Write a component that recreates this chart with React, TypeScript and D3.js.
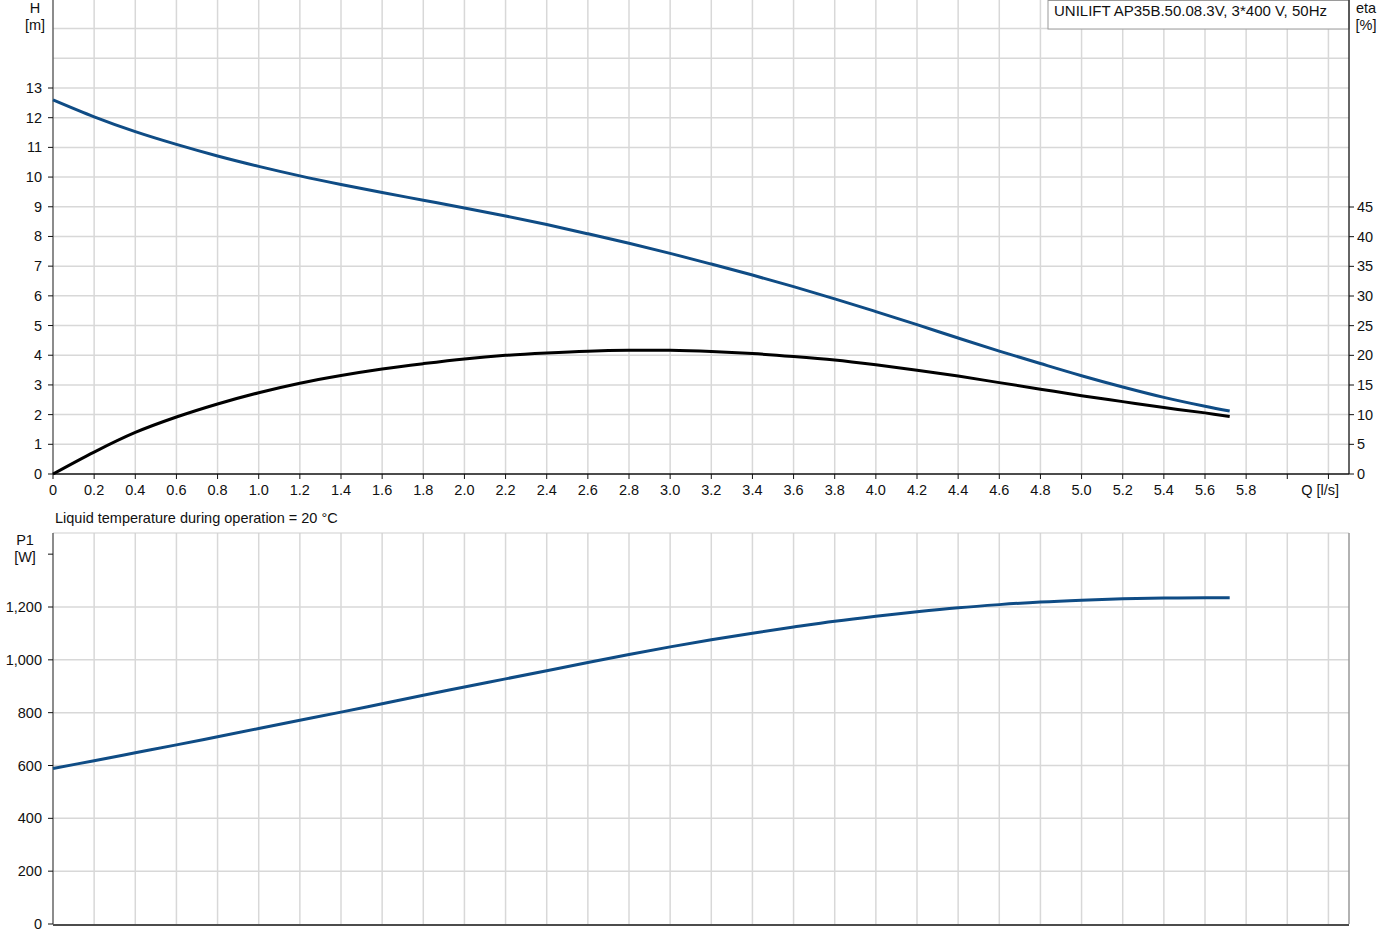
import React from "react";
import * as d3 from "d3";

// flow Q [l/s]
const flow = [0, 0.2, 0.4, 0.6, 0.8, 1.0, 1.2, 1.4, 1.6, 1.8, 2.0, 2.2, 2.4, 2.6, 2.8, 3.0, 3.2, 3.4, 3.6, 3.8, 4.0, 4.2, 4.4, 4.6, 4.8, 5.0, 5.2, 5.4, 5.6, 5.72];
// head H [m]
const head = [12.6, 12.03, 11.53, 11.1, 10.71, 10.36, 10.04, 9.75, 9.48, 9.22, 8.96, 8.69, 8.4, 8.09, 7.77, 7.43, 7.07, 6.7, 6.31, 5.9, 5.47, 5.03, 4.58, 4.14, 3.72, 3.31, 2.93, 2.58, 2.28, 2.12];
// efficiency eta [%]
const eta = [0, 3.7, 7.0, 9.6, 11.8, 13.7, 15.3, 16.6, 17.7, 18.6, 19.4, 20.0, 20.4, 20.7, 20.85, 20.85, 20.65, 20.3, 19.8, 19.2, 18.4, 17.5, 16.5, 15.4, 14.3, 13.2, 12.2, 11.2, 10.3, 9.7];
// power P1 [W]
const power = [589, 618, 648, 678, 709, 740, 771, 802, 834, 866, 897, 928, 959, 990, 1020, 1049, 1076, 1101, 1124, 1146, 1165, 1182, 1197, 1209, 1219, 1226, 1231, 1234, 1235, 1235];

const xTickLabels = ["0", "0.2", "0.4", "0.6", "0.8", "1.0", "1.2", "1.4", "1.6", "1.8", "2.0", "2.2", "2.4", "2.6", "2.8", "3.0", "3.2", "3.4", "3.6", "3.8", "4.0", "4.2", "4.4", "4.6", "4.8", "5.0", "5.2", "5.4", "5.6", "5.8"];
const hTicks = [0, 1, 2, 3, 4, 5, 6, 7, 8, 9, 10, 11, 12, 13];
const etaTicks = [0, 5, 10, 15, 20, 25, 30, 35, 40, 45];
const pTicks = [0, 200, 400, 600, 800, 1000, 1200];

const title = "UNILIFT AP35B.50.08.3V, 3*400 V, 50Hz";
const note = "Liquid temperature during operation = 20 °C";

const W = 1385;
const H = 951;
const left = 53;
const right = 1349;
const font = "Arial, 'Liberation Sans', sans-serif";
const fs = 14.5;
const gridColor = "#d8d8d8";
const blue = "#0f4c85";

const App = () => {
  const x = d3.scaleLinear().domain([0, 6.3]).range([left, right]);
  const yH = d3.scaleLinear().domain([0, 13]).range([474, 88]);
  const yEta = d3.scaleLinear().domain([0, 45]).range([474, 207]);
  const yP = d3.scaleLinear().domain([0, 1200]).range([924, 607]);

  const topBottom = yH(0);
  const pTop = 533;
  const pBottom = yP(0);

  const gridQ = d3.range(1, 32).map((i) => i * 0.2);
  const gridH = d3.range(1, 17);

  const line = (ys: number[], y: d3.ScaleLinear<number, number>) =>
    d3
      .line<number>()
      .x((_, i) => x(flow[i]))
      .y((v) => y(v))
      .curve(d3.curveCatmullRom.alpha(0.5))(ys) || "";

  return (
    <svg width={W} height={H} style={{ position: "absolute", left: 0, top: 0, background: "#fff" }} fontFamily={font}>
      {/* ---- top chart: H and eta ---- */}
      {gridQ.map((q) => (
        <line key={"vq" + q} x1={x(q)} x2={x(q)} y1={0} y2={topBottom} stroke={gridColor} strokeWidth={1.5} />
      ))}
      {gridH.map((h) => (
        <line key={"hh" + h} x1={left} x2={right} y1={yH(h)} y2={yH(h)} stroke={gridColor} strokeWidth={1.5} />
      ))}

      <rect x={1048} y={0.5} width={right - 1048} height={28.5} fill="#fff" stroke="#9a9a9a" strokeWidth={1} />
      <text x={1054} y={16} fontSize={15} fill="#111">{title}</text>

      <line x1={left} x2={left} y1={0} y2={topBottom} stroke="#666" strokeWidth={1.5} />
      <line x1={right} x2={right} y1={0} y2={topBottom} stroke="#333" strokeWidth={1.5} />
      <line x1={left} x2={right} y1={topBottom} y2={topBottom} stroke="#111" strokeWidth={1.5} />

      {hTicks.map((t) => (
        <g key={"ht" + t}>
          <line x1={left - 5} x2={left} y1={yH(t)} y2={yH(t)} stroke="#111" />
          <text x={42} y={yH(t) + 5} fontSize={fs} textAnchor="end" fill="#111">{t}</text>
        </g>
      ))}
      {etaTicks.map((t) => (
        <g key={"et" + t}>
          <line x1={right} x2={right + 5} y1={yEta(t)} y2={yEta(t)} stroke="#111" />
          <text x={1357} y={yEta(t) + 5} fontSize={fs} fill="#111">{t}</text>
        </g>
      ))}
      {xTickLabels.map((t, i) => (
        <g key={"xt" + t}>
          <line x1={x(i * 0.2)} x2={x(i * 0.2)} y1={topBottom} y2={topBottom + 5} stroke="#111" />
          <text x={x(i * 0.2)} y={495} fontSize={fs} textAnchor="middle" fill="#111">{t}</text>
        </g>
      ))}
      {[6.0, 6.2].map((q) => (
        <line key={"xe" + q} x1={x(q)} x2={x(q)} y1={topBottom} y2={topBottom + 5} stroke="#111" />
      ))}
      <text x={x(6.16)} y={495} fontSize={fs} textAnchor="middle" fill="#111">Q [l/s]</text>

      <text x={35} y={13} fontSize={fs} textAnchor="middle" fill="#111">H</text>
      <text x={35} y={30} fontSize={fs} textAnchor="middle" fill="#111">[m]</text>
      <text x={1366} y={13} fontSize={fs} textAnchor="middle" fill="#111">eta</text>
      <text x={1366} y={30} fontSize={fs} textAnchor="middle" fill="#111">[%]</text>

      <path d={line(eta, yEta)} fill="none" stroke="#000" strokeWidth={3} />
      <path d={line(head, yH)} fill="none" stroke={blue} strokeWidth={3} />

      {/* ---- bottom chart: P1 ---- */}
      <text x={55} y={523} fontSize={fs} fill="#111">{note}</text>

      {gridQ.map((q) => (
        <line key={"pq" + q} x1={x(q)} x2={x(q)} y1={pTop} y2={pBottom} stroke={gridColor} strokeWidth={1.5} />
      ))}
      {pTicks.slice(1).map((p) => (
        <line key={"pg" + p} x1={left} x2={right} y1={yP(p)} y2={yP(p)} stroke={gridColor} strokeWidth={1.5} />
      ))}
      <line x1={left} x2={right} y1={pTop} y2={pTop} stroke="#cfcfcf" strokeWidth={1} />
      <line x1={left} x2={left} y1={pTop} y2={pBottom} stroke="#666" strokeWidth={1.5} />
      <line x1={right} x2={right} y1={pTop} y2={pBottom} stroke="#999" strokeWidth={1.5} />
      <line x1={left} x2={right} y1={pBottom + 1} y2={pBottom + 1} stroke="#111" strokeWidth={1.5} />

      {pTicks.map((p) => (
        <g key={"pt" + p}>
          <line x1={left - 5} x2={left} y1={yP(p)} y2={yP(p)} stroke="#111" />
          <text x={42} y={yP(p) + 5} fontSize={fs} textAnchor="end" fill="#111">{d3.format(",")(p)}</text>
        </g>
      ))}
      <line x1={left - 5} x2={left} y1={yP(1400)} y2={yP(1400)} stroke="#111" />
      <text x={25} y={545} fontSize={fs} textAnchor="middle" fill="#111">P1</text>
      <text x={25} y={562} fontSize={fs} textAnchor="middle" fill="#111">[W]</text>

      <path d={line(power, yP)} fill="none" stroke={blue} strokeWidth={3} />
    </svg>
  );
};

export default App;
